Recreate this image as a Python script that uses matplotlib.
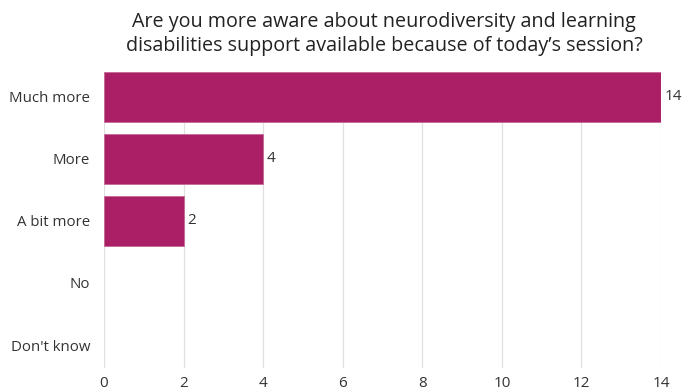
import matplotlib.pyplot as plt

# data
categories = ['Much more', 'More', 'A bit more', 'No', "Don't know"]
counts = [14, 4, 2, 0, 0]
xticks = [0, 2, 4, 6, 8, 10, 12, 14]

bar_color = '#AB1F66'
text_color = '#333333'

plt.rcParams['font.family'] = ['Open Sans', 'DejaVu Sans']

fig = plt.figure(figsize=(6.95, 3.91), dpi=100)
ax = fig.add_axes([0.1496, 0.0588, 0.8015, 0.7571])

ypos = list(range(len(categories)))
for y, v in zip(ypos, counts):
    if v > 0:
        ax.barh(y, v, height=0.8, color=bar_color,
                edgecolor='#c46a96', linewidth=0.6, zorder=3)
        # value label
        ax.text(v + 0.1, y, str(v), va='center', ha='left',
                fontsize=11, color=text_color)

ax.set_yticks(ypos)
ax.set_yticklabels(categories, fontsize=10.8, color=text_color)
ax.set_xticks(xticks)
ax.set_xticklabels([str(t) for t in xticks], fontsize=11, color=text_color)
ax.set_xlim(0, 14)
ax.set_ylim(4.37, -0.4)

ax.grid(axis='x', color='#e0e0e0', linewidth=0.9, zorder=0)
ax.tick_params(length=0)
ax.tick_params(axis='y', pad=10)
ax.tick_params(axis='x', pad=6)
for s in ax.spines.values():
    s.set_visible(False)

fig.text(0.553, 0.913, 'Are you more aware about neurodiversity and learning\n'
         'disabilities support available because of today\u2019s session?',
         ha='center', va='center', fontsize=14.2, color='#222222',
         linespacing=1.3)

plt.savefig('out.png', dpi=100)
